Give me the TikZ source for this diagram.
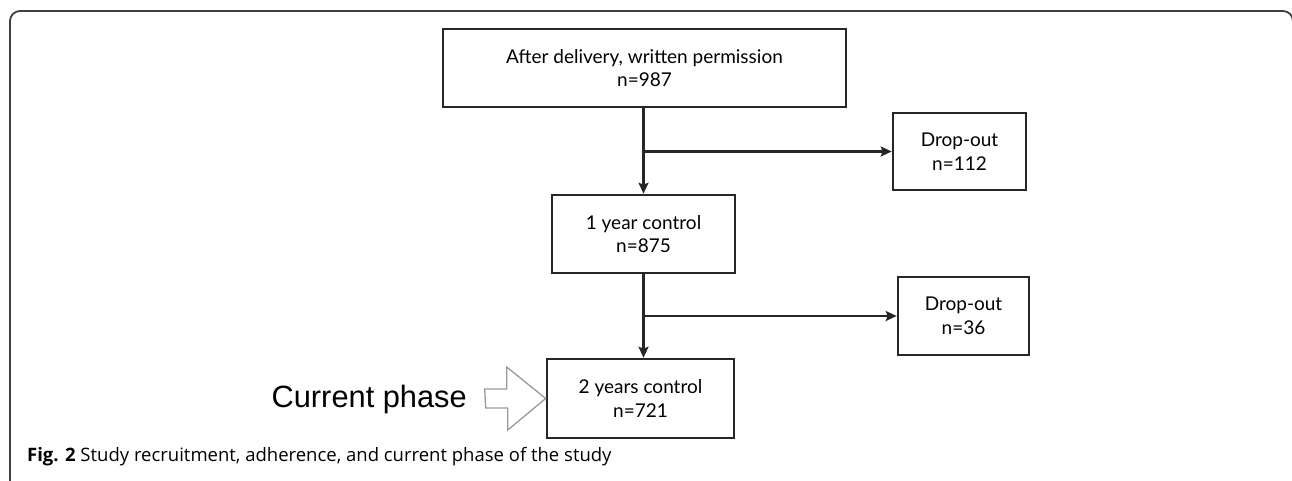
\documentclass[tikz,border=0pt]{standalone}
\usepackage{fontspec}
\setmainfont{Lato}
\newfontfamily\capfont{Open Sans}
\newfontfamily\phasefont{Liberation Sans}
\usepackage{tikz}
\usetikzlibrary{arrows.meta}

\begin{document}
\begin{tikzpicture}[x=1pt,y=-1pt,
  box/.style={draw=black!85, line width=2.6pt, inner sep=0pt, align=center,
    font=\fontsize{19}{23.5}\selectfont},
  flow/.style={draw=black!85, line width=2.6pt, -{Stealth[length=11pt,width=10pt,inset=2pt]}}]
\useasboundingbox (0,0) rectangle (1292,480);
% outer frame
\draw [black!75, line width=1.8pt, rounded corners=10pt] (10,481) -- (10,11) -- (1293,11) -- (1293,481);
% boxes
\node [box, minimum width=403pt, minimum height=78pt] (perm) at (644.5,68) {After delivery, written permission\\n=987};
\node [box, minimum width=133pt, minimum height=77pt] (drop1) at (959.5,151.5) {Drop-out\\n=112};
\node [box, minimum width=183pt, minimum height=78pt] (year1) at (643.5,234) {1 year control\\n=875};
\node [box, minimum width=131pt, minimum height=78pt] (drop2) at (963.5,316) {Drop-out\\n=36};
\node [box, minimum width=187pt, minimum height=79pt] (year2) at (640.5,398.5) {2 years control\\n=721};
% connectors
\draw [flow] (year1.north |- perm.south) -- (year1.north);
\draw [flow] (year1.north |- drop1.west) -- (drop1.west);
\draw [flow] (year1.south) -- (year1.south |- year2.north);
\draw [flow] (year1.south |- drop2.west) -- (drop2.west);
% current phase pointer
\node [anchor=base east, inner sep=0pt, font=\phasefont\fontsize{30.8}{30}\selectfont] (phase) at (467,407) {Current phase};
\draw [black!40, line width=1.3pt, line join=miter]
  (year2.west) ++(-61,-9.5) -- ++(22,0) -- ++(0,-22) -- (year2.west) -- ++(-38,31.5)
  -- ++(0,-22) -- ++(-22,0) -- cycle;
% caption
\node [anchor=base west, inner sep=0pt, font=\capfont\fontsize{18.5}{22}\selectfont] (cap) at (27,461) {\textbf{Fig. 2} Study recruitment, adherence, and current phase of the study};
\end{tikzpicture}
\end{document}
